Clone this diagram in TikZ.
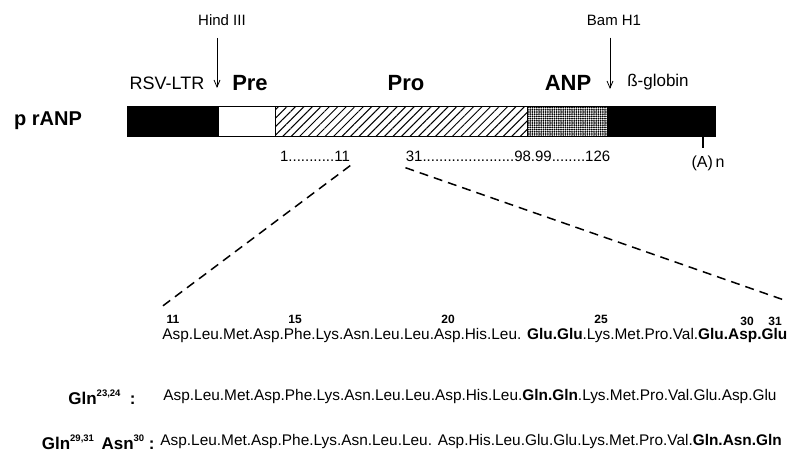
\documentclass[tikz,border=0pt]{standalone}
\usepackage{fontspec}
\setmainfont{Liberation Sans}
\usetikzlibrary{arrows.meta, positioning, patterns.meta}

\newcommand{\supnum}[1]{\raisebox{8pt}{\fontsize{9.5}{10}\selectfont\bfseries #1}}

\begin{document}
\begin{tikzpicture}[x=1pt, y=-1pt, >={Straight Barb[length=7pt,width=6pt]}, thick,
  seg/.style={draw, line width=0.8pt, minimum height=30pt, inner sep=0pt, outer sep=0pt, anchor=west},
  site/.style={font=\fontsize{15}{17}\selectfont, inner sep=0pt},
  part/.style={font=\fontsize{22}{24}\selectfont\bfseries, inner sep=0pt},
  resnum/.style={font=\fontsize{15}{17}\selectfont, inner sep=0pt},
  num/.style={font=\fontsize{12}{13}\selectfont\bfseries, inner sep=0pt},
  seq/.style={font=\fontsize{15.4}{17}\selectfont, inner sep=0pt, anchor=west},
  mut/.style={font=\fontsize{17}{19}\selectfont\bfseries, inner sep=0pt, anchor=east}]
  \useasboundingbox (0,0) rectangle (796,453);

  % Plasmid
  \node[part, font=\fontsize{20}{22}\selectfont\bfseries] (name) at (48,121) {p rANP};
  \node[seg, fill=black, minimum width=91pt] (ltr) at (127,121) {};
  \node[seg, fill=white, minimum width=57pt, right=0pt of ltr] (pre) {};
  \node[seg, pattern={Lines[angle=45, distance=6pt, line width=1pt]}, minimum width=252pt, right=0pt of pre] (pro) {};
  \node[seg, pattern={Dots[distance=2.2pt, radius=1pt]}, minimum width=80pt, right=0pt of pro] (anp) {};
  \node[seg, fill=black, minimum width=108pt, right=0pt of anp] (glob) {};

  % Labels above
  \node[site, font=\fontsize{18}{20}\selectfont] (ltrlbl) at (167,83) {RSV-LTR};
  \node[part] (prelbl) at (250,83) {Pre};
  \node[part] (prolbl) at (406,83) {Pro};
  \node[part] (anplbl) at (568,83) {ANP};
  \node[site, font=\fontsize{17}{19}\selectfont] (globlbl) at (658,82) {ß-globin};

  % Restriction sites
  \node[site] (hind) at (222,20) {Hind III};
  \node[site] (bam) at (614,20) {Bam H1};
  \coordinate (hindcut) at (217,88);
  \coordinate (bamcut) at (610,89);
  \draw[->, shorten <=12pt] (hind.south -| hindcut) -- (hindcut);
  \draw[->, shorten <=12pt] (bam.south -| bamcut) -- (bamcut);

  % Poly A
  \coordinate (polya) at (703,148);
  \draw[line width=1.5pt] (glob.south -| polya) -- (polya);
  \node[site, font=\fontsize{16}{18}\selectfont] (polylbl) at (708,163) {(A)\,n};

  % Residue numbers
  \node[resnum] (n1) at (315,156) {1...........11};
  \node[resnum] (n2) at (508,156) {31......................98.99........126};

  % Zoom lines
  \coordinate (z1) at (160,308);
  \coordinate (z2) at (784,300);
  \draw[line width=1.5pt, dash pattern=on 9pt off 6pt] ([yshift=-4pt]n1.south east) -- (z1);
  \draw[line width=1.5pt, dash pattern=on 9pt off 6pt] ([yshift=-6pt]n2.south west) -- (z2);

  % Wild type
  \node[num] (r11) at (173,319) {11};
  \node[num] (r15) at (295,319) {15};
  \node[num] (r20) at (448,319) {20};
  \node[num] (r25) at (601,319) {25};
  \node[num] (r30) at (747,321) {30};
  \node[num] (r31) at (775,321) {31};
  \node[seq] (wt) at (162,336) {Asp.Leu.Met.Asp.Phe.Lys.Asn.Leu.Leu.Asp.His.Leu. \textbf{Glu.Glu}.Lys.Met.Pro.Val.\textbf{Glu.Asp.Glu}};

  % Mutants
  \node[mut] (m1lbl) at (136,397) {Gln\supnum{23,24}\ \ :};
  \node[seq] (m1) at (163,397) {Asp.Leu.Met.Asp.Phe.Lys.Asn.Leu.Leu.Asp.His.Leu.\textbf{Gln.Gln}.Lys.Met.Pro.Val.Glu.Asp.Glu};
  \node[mut] (m2lbl) at (155,442) {Gln\supnum{29,31}\ \,Asn\supnum{30}\ :};
  \node[seq] (m2) at (160,442) {Asp.Leu.Met.Asp.Phe.Lys.Asn.Leu.Leu. Asp.His.Leu.Glu.Glu.Lys.Met.Pro.Val.\textbf{Gln.Asn.Gln}};
\end{tikzpicture}
\end{document}
